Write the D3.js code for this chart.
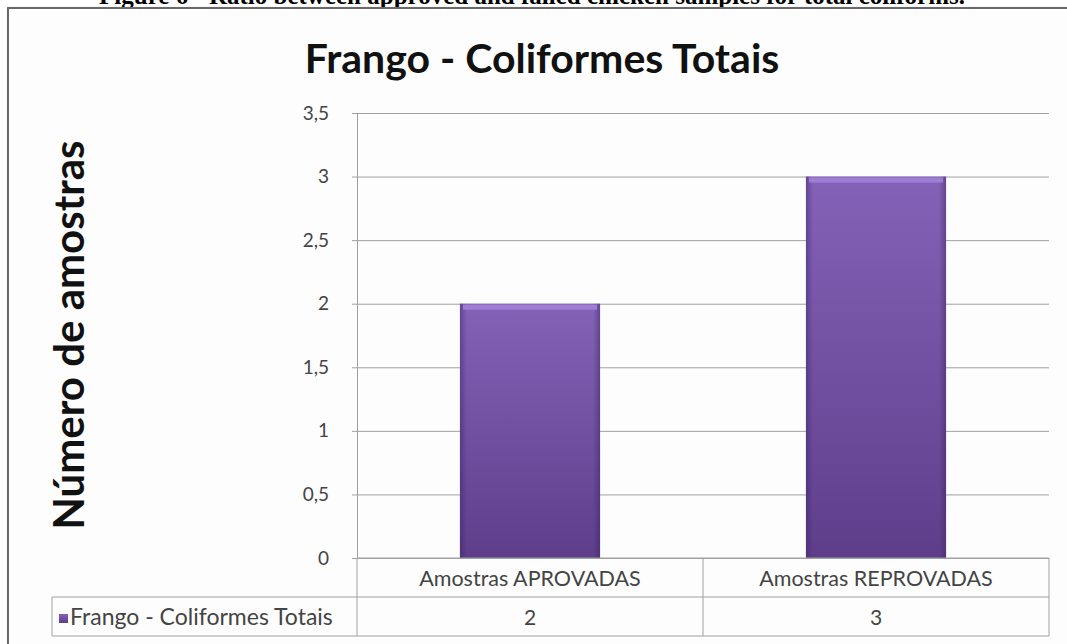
<!doctype HTML>
<html lang='pt'>
<head>
	<meta charset='utf-8'>
	<title>Frango - Coliformes Totais</title>
	<script src='https://cdnjs.cloudflare.com/ajax/libs/d3/7.8.5/d3.min.js'></script>
	<style>
		html, body {
			margin: 0;
			padding: 0;
			background: #fff;
		}
		svg text {
			font-family: Lato, 'Open Sans', sans-serif;
		}
	</style>
</head>
<body>
	<div id='container'></div>

	<script>
		// Data
		const categories = ['Amostras APROVADAS', 'Amostras REPROVADAS'];
		const values = [2, 3];
		const seriesName = 'Frango - Coliformes Totais';
		const yTicks = [0, 0.5, 1, 1.5, 2, 2.5, 3, 3.5];

		const W = 1067, H = 644;
		const plot = {left: 357, right: 1049, top: 113, bottom: 558};
		const rowH = 39;

		const svg = d3.select('#container').append('svg')
			.attr('width', W)
			.attr('height', H);

		// caption of the paper, cut off at the top like in the source image
		svg.append('text')
			.attr('x', 532)
			.attr('y', 4)
			.attr('text-anchor', 'middle')
			.style('font-family', "'Liberation Serif', serif")
			.style('font-weight', 'bold')
			.style('font-size', '25px')
			.attr('fill', '#000')
			.text('Figure 6 - Ratio between approved and failed chicken samples for total coliforms.');

		// chart frame
		const defs = svg.append('defs');
		const shadow = defs.append('filter').attr('id', 'shadow');
		shadow.append('feDropShadow')
			.attr('dx', 1).attr('dy', 1).attr('stdDeviation', 1)
			.attr('flood-color', '#000').attr('flood-opacity', 0.35);

		svg.append('rect')
			.attr('x', 8).attr('y', 8)
			.attr('width', W).attr('height', H)
			.attr('fill', '#fdfdfd')
			.attr('stroke', '#6a6a6a')
			.attr('stroke-width', 2)
			.attr('filter', 'url(#shadow)');

		// bar gradient
		const grad = defs.append('linearGradient')
			.attr('id', 'barGrad')
			.attr('x1', 0).attr('y1', 0).attr('x2', 0).attr('y2', 1);
		grad.append('stop').attr('offset', '0%').attr('stop-color', '#8462b7');
		grad.append('stop').attr('offset', '100%').attr('stop-color', '#5e3e8b');

		const edge = defs.append('linearGradient')
			.attr('id', 'edgeGrad')
			.attr('x1', 0).attr('y1', 0).attr('x2', 1).attr('y2', 0);
		edge.append('stop').attr('offset', '0%').attr('stop-color', '#3a2260').attr('stop-opacity', 0.45);
		edge.append('stop').attr('offset', '5%').attr('stop-color', '#3a2260').attr('stop-opacity', 0);
		edge.append('stop').attr('offset', '95%').attr('stop-color', '#3a2260').attr('stop-opacity', 0);
		edge.append('stop').attr('offset', '100%').attr('stop-color', '#3a2260').attr('stop-opacity', 0.45);

		// Scales
		const x = d3.scaleBand()
			.domain(categories)
			.range([plot.left, plot.right])
			.padding(0);
		const y = d3.scaleLinear()
			.domain([0, 3.5])
			.range([plot.bottom, plot.top]);

		const ptBR = d3.formatLocale({decimal: ',', thousands: '.', grouping: [3], currency: ['R$', '']});
		const fmt = ptBR.format('~g');

		// Gridlines
		svg.append('g')
			.attr('transform', 'translate(' + plot.left + ',0)')
			.call(d3.axisLeft(y).tickValues(yTicks).tickSize(-(plot.right - plot.left)).tickFormat(''))
			.call(g => g.select('.domain').remove())
			.call(g => g.selectAll('line').attr('stroke', '#a0a0a0'));

		// Bars
		const barW = x.bandwidth() * 0.405;
		const bars = svg.append('g')
			.selectAll('g')
			.data(categories.map((c, i) => ({key: c, value: values[i]})))
			.enter()
			.append('g');

		bars.append('rect')
			.attr('x', d => x(d.key) + (x.bandwidth() - barW) / 2)
			.attr('y', d => y(d.value))
			.attr('width', barW)
			.attr('height', d => y(0) - y(d.value))
			.attr('fill', 'url(#barGrad)');

		bars.append('rect')
			.attr('x', d => x(d.key) + (x.bandwidth() - barW) / 2)
			.attr('y', d => y(d.value))
			.attr('width', barW)
			.attr('height', d => y(0) - y(d.value))
			.attr('fill', 'url(#edgeGrad)');

		// light bevel on top
		bars.append('rect')
			.attr('x', d => x(d.key) + (x.bandwidth() - barW) / 2 + 3)
			.attr('y', d => y(d.value) + 1)
			.attr('width', barW - 6)
			.attr('height', 5)
			.attr('fill', '#a586dc')
			.attr('opacity', 0.8);

		// Y axis
		const yAxis = svg.append('g')
			.attr('transform', 'translate(' + plot.left + ',0)')
			.call(d3.axisLeft(y).tickValues(yTicks).tickSize(5).tickPadding(23).tickFormat(fmt));
		yAxis.select('.domain').attr('stroke', '#a0a0a0');
		yAxis.selectAll('line').attr('stroke', '#a0a0a0');
		yAxis.selectAll('text')
			.style('font-size', '19px')
			.attr('fill', '#444');

		// Data table
		const tbl = svg.append('g').attr('stroke', '#a0a0a0').attr('fill', 'none');
		const tTop = plot.bottom, tMid = plot.bottom + rowH, tBot = plot.bottom + 2 * rowH;
		tbl.append('line').attr('x1', plot.left).attr('x2', plot.right).attr('y1', tTop).attr('y2', tTop);
		tbl.append('line').attr('x1', 52).attr('x2', plot.right).attr('y1', tMid).attr('y2', tMid);
		tbl.append('line').attr('x1', 52).attr('x2', plot.right).attr('y1', tBot).attr('y2', tBot);
		tbl.append('line').attr('x1', 52).attr('x2', 52).attr('y1', tMid).attr('y2', tBot);
		tbl.selectAll('.vline')
			.data([plot.left].concat(categories.map(c => x(c) + x.bandwidth())))
			.enter()
			.append('line')
			.attr('x1', d => d).attr('x2', d => d)
			.attr('y1', tTop).attr('y2', tBot);

		svg.append('g')
			.selectAll('text')
			.data(categories)
			.enter()
			.append('text')
			.attr('x', d => x(d) + x.bandwidth() / 2)
			.attr('y', tTop + 28)
			.attr('text-anchor', 'middle')
			.style('font-size', '21.5px')
			.attr('fill', '#444')
			.text(d => d);

		svg.append('g')
			.selectAll('text')
			.data(values)
			.enter()
			.append('text')
			.attr('x', (d, i) => x(categories[i]) + x.bandwidth() / 2)
			.attr('y', tMid + 28)
			.attr('text-anchor', 'middle')
			.style('font-size', '21px')
			.attr('fill', '#444')
			.text(d => fmt(d));

		// legend key in the table
		svg.append('rect')
			.attr('x', 59).attr('y', tMid + 17)
			.attr('width', 9).attr('height', 9)
			.attr('fill', 'url(#barGrad)');
		svg.append('text')
			.attr('x', 70)
			.attr('y', tMid + 28)
			.style('font-size', '23px')
			.attr('fill', '#444')
			.text(seriesName);

		// Title
		svg.append('text')
			.attr('x', 542)
			.attr('y', 73)
			.attr('text-anchor', 'middle')
			.style('font-size', '41px')
			.style('font-weight', 'bold')
			.attr('fill', '#111')
			.text('Frango - Coliformes Totais');

		// Y axis label
		svg.append('text')
			.attr('transform', 'translate(84,' + 335 + ') rotate(-90)')
			.attr('text-anchor', 'middle')
			.style('font-size', '42px')
			.style('font-weight', 'bold')
			.attr('fill', '#111')
			.text('Número de amostras');
	</script>
</body>
</html>
